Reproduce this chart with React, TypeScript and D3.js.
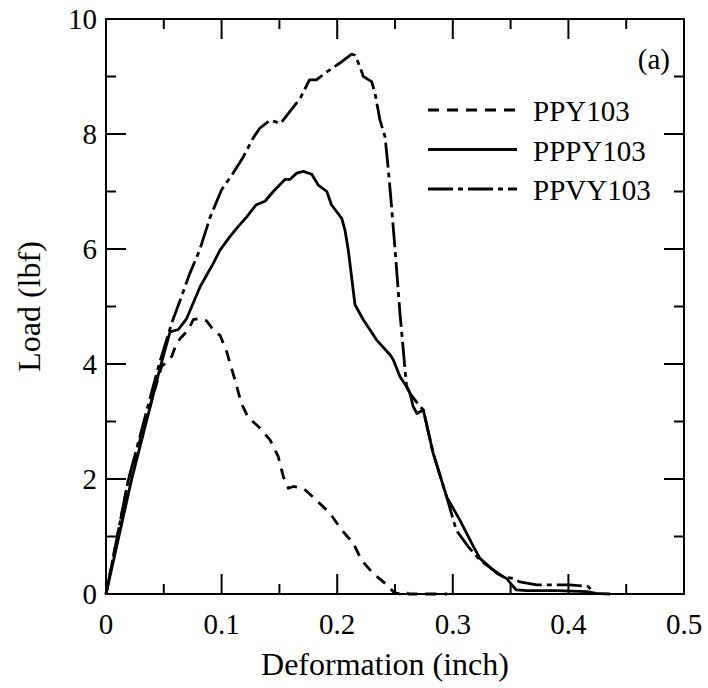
import React from "react";
import * as d3 from "d3";

const xMajor = [0, 0.1, 0.2, 0.3, 0.4, 0.5];
const xMinor = [0.05, 0.15, 0.25, 0.35, 0.45];
const yMajor = [0, 2, 4, 6, 8, 10];
const yMinor = [1, 3, 5, 7, 9];
const xTickLabels = ["0", "0.1", "0.2", "0.3", "0.4", "0.5"];
const yTickLabels = ["0", "2", "4", "6", "8", "10"];

const seriesNames = ["PPY103", "PPPY103", "PPVY103"];

const ppy103: [number, number][] = [
  [0, 0], [0.0193, 1.98], [0.048, 3.95], [0.0568, 4.13], [0.061, 4.36], [0.0654, 4.47],
  [0.071, 4.59], [0.0755, 4.77], [0.081, 4.79], [0.087, 4.75], [0.094, 4.56], [0.0986, 4.5],
  [0.104, 4.24], [0.1116, 3.72], [0.117, 3.32], [0.123, 3.07], [0.132, 2.91], [0.1419, 2.68],
  [0.149, 2.39], [0.1534, 2.04], [0.1577, 1.84], [0.162, 1.87], [0.1707, 1.84], [0.1822, 1.63],
  [0.1938, 1.4], [0.204, 1.11], [0.214, 0.88], [0.221, 0.59], [0.231, 0.36], [0.243, 0.16],
  [0.249, 0.03], [0.254, 0], [0.258, 0.05], [0.262, 0], [0.295, 0],
];

const pppy103: [number, number][] = [
  [0, 0], [0.022, 1.98], [0.047, 3.95], [0.0554, 4.56], [0.0626, 4.6], [0.0698, 4.79],
  [0.0813, 5.34], [0.0928, 5.75], [0.0986, 5.98], [0.107, 6.21], [0.113, 6.36], [0.1217, 6.56],
  [0.13, 6.77], [0.1375, 6.83], [0.1447, 7.0], [0.1548, 7.21], [0.159, 7.21], [0.165, 7.32],
  [0.1707, 7.35], [0.178, 7.3], [0.1837, 7.11], [0.191, 7.0], [0.195, 6.77], [0.204, 6.53],
  [0.2067, 6.33], [0.2096, 5.98], [0.2154, 5.03], [0.2226, 4.77], [0.234, 4.42], [0.2457, 4.16],
  [0.2486, 4.07], [0.2543, 3.78], [0.26, 3.61], [0.263, 3.49], [0.2657, 3.26], [0.269, 3.14],
  [0.2745, 3.2], [0.283, 2.45], [0.2947, 1.69], [0.306, 1.29], [0.318, 0.82], [0.3235, 0.62],
  [0.338, 0.36], [0.3466, 0.27], [0.351, 0.16], [0.355, 0.07], [0.364, 0.06], [0.39, 0.06],
  [0.416, 0.04], [0.424, 0.01], [0.436, 0],
];

const ppvy103: [number, number][] = [
  [0, 0], [0.0193, 1.98], [0.046, 4.0], [0.057, 4.72], [0.064, 5.1], [0.072, 5.55],
  [0.081, 5.98], [0.09, 6.55], [0.1, 7.03], [0.11, 7.32], [0.119, 7.61], [0.127, 7.92],
  [0.133, 8.1], [0.142, 8.24], [0.147, 8.21], [0.15, 8.18], [0.152, 8.21], [0.159, 8.39],
  [0.168, 8.62], [0.176, 8.94], [0.182, 8.94], [0.191, 9.08], [0.202, 9.23], [0.2125, 9.39],
  [0.2154, 9.37], [0.2197, 9.17], [0.2226, 9.0], [0.2298, 8.91], [0.2327, 8.71], [0.237, 8.24],
  [0.2414, 7.95], [0.244, 7.43], [0.247, 6.74], [0.25, 6.0], [0.2543, 4.88], [0.26, 3.61],
  [0.263, 3.49], [0.27, 3.3], [0.2745, 3.2], [0.283, 2.45], [0.2947, 1.69], [0.303, 1.11],
  [0.3135, 0.82], [0.3235, 0.59], [0.335, 0.42], [0.3437, 0.3], [0.352, 0.27], [0.358, 0.21],
  [0.3726, 0.16], [0.401, 0.16], [0.417, 0.13], [0.4215, 0.04], [0.423, 0],
];

const W = 708;
const H = 688;
const L = 106, R = 684, T = 19, B = 594;
const FONT = '"Liberation Serif", "Times New Roman", Times, "DejaVu Serif", serif';

export default function App() {
  const x = d3.scaleLinear().domain([0, 0.5]).range([L, R]);
  const y = d3.scaleLinear().domain([0, 10]).range([B, T]);
  const line = d3.line<[number, number]>().x((d) => x(d[0])).y((d) => y(d[1]));

  const series = [
    { name: seriesNames[0], data: ppy103, dash: "11,8" },
    { name: seriesNames[1], data: pppy103, dash: "none" },
    { name: seriesNames[2], data: ppvy103, dash: "25,5,5,5" },
  ];

  const majorLen = 20;
  const minorLen = 10;
  const sw = 2;
  const txt = { fontFamily: FONT } as React.CSSProperties;

  return (
    <svg width={W} height={H} style={{ position: "absolute", left: 0, top: 0, background: "#fff" }}>
      <rect x={0} y={0} width={W} height={H} fill="#fff" />
      <g stroke="#000" strokeWidth={sw}>
        {xMajor.map((v) => (
          <g key={"xM" + v}>
            <line x1={x(v)} x2={x(v)} y1={B} y2={B - majorLen} />
            <line x1={x(v)} x2={x(v)} y1={T} y2={T + majorLen} />
          </g>
        ))}
        {xMinor.map((v) => (
          <g key={"xm" + v}>
            <line x1={x(v)} x2={x(v)} y1={B} y2={B - minorLen} />
            <line x1={x(v)} x2={x(v)} y1={T} y2={T + minorLen} />
          </g>
        ))}
        {yMajor.map((v) => (
          <g key={"yM" + v}>
            <line x1={L} x2={L + majorLen} y1={y(v)} y2={y(v)} />
            <line x1={R} x2={R - majorLen} y1={y(v)} y2={y(v)} />
          </g>
        ))}
        {yMinor.map((v) => (
          <g key={"ym" + v}>
            <line x1={L} x2={L + minorLen} y1={y(v)} y2={y(v)} />
            <line x1={R} x2={R - minorLen} y1={y(v)} y2={y(v)} />
          </g>
        ))}
      </g>
      <g fill="none" stroke="#000" strokeWidth={2.8} strokeLinejoin="round">
        {series.map((s) => (
          <path key={s.name} d={line(s.data) || ""} strokeDasharray={s.dash} />
        ))}
      </g>
      <rect x={L} y={T} width={R - L} height={B - T} fill="none" stroke="#000" strokeWidth={sw} />
      <g style={{ ...txt, fontSize: 29 }} fill="#000">
        {xMajor.map((v, i) => (
          <text key={"xl" + v} x={x(v)} y={634} textAnchor="middle">
            {xTickLabels[i]}
          </text>
        ))}
        {yMajor.map((v, i) => (
          <text key={"yl" + v} x={97} y={y(v) + 10} textAnchor="end">
            {yTickLabels[i]}
          </text>
        ))}
      </g>
      <text x={385} y={675} textAnchor="middle" style={{ ...txt, fontSize: 32 }}>
        Deformation (inch)
      </text>
      <text
        transform={`translate(40, ${(T + B) / 2}) rotate(-90)`}
        textAnchor="middle"
        style={{ ...txt, fontSize: 32 }}
      >
        Load (lbf)
      </text>
      <text x={670} y={69} textAnchor="end" style={{ ...txt, fontSize: 29 }}>
        (a)
      </text>
      <g style={{ ...txt, fontSize: 29 }}>
        {series.map((s, i) => {
          const ly = 110 + i * 39.5;
          return (
            <g key={"lg" + s.name}>
              <line x1={428} x2={517} y1={ly} y2={ly} stroke="#000" strokeWidth={2.8} strokeDasharray={s.dash} />
              <text x={533} y={ly + 11}>{s.name}</text>
            </g>
          );
        })}
      </g>
    </svg>
  );
}
